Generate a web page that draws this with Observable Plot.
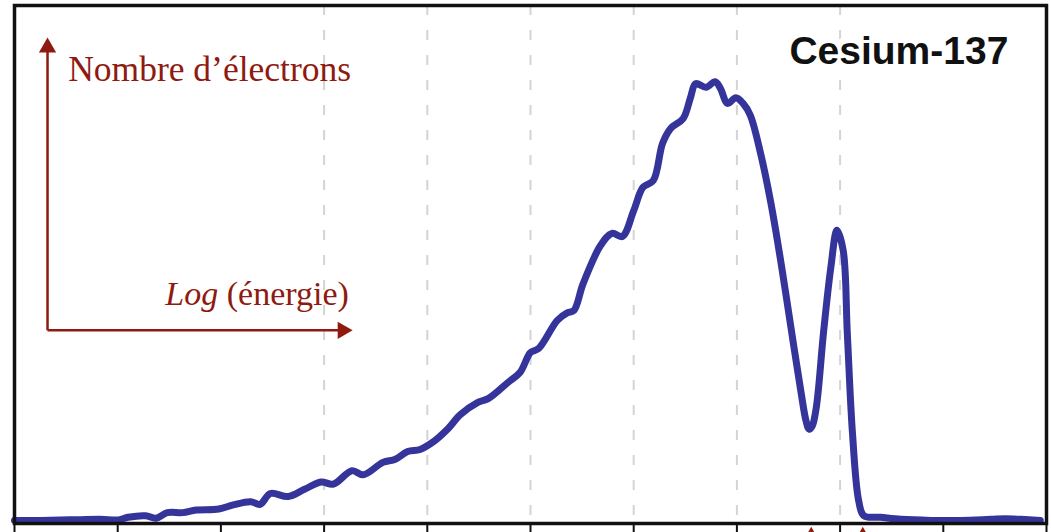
<!DOCTYPE html>
<html lang="fr">
<head>
<meta charset="utf-8">
<title>Cesium-137</title>
<script src="https://cdn.jsdelivr.net/npm/d3@7"></script>
<script src="https://cdn.jsdelivr.net/npm/@observablehq/plot@0.6"></script>
<style>
  html, body { margin: 0; padding: 0; background: #fff; }
  svg { display: block; }
</style>
</head>
<body>
<script>
// Spectre en énergie des électrons du césium-137 (échelle log, unités arbitraires)
const logEnergy = [
  0.00, 0.25, 0.54, 0.83, 1.01, 1.10, 1.27, 1.37, 1.48, 1.63, 1.76, 1.98,
  2.12, 2.29, 2.38, 2.48, 2.65, 2.81, 2.97, 3.09, 3.27, 3.38, 3.57, 3.69,
  3.81, 3.93, 4.06, 4.20, 4.32, 4.49, 4.59, 4.78, 4.90, 5.00, 5.08, 5.26,
  5.36, 5.42, 5.51, 5.68, 5.79, 5.89, 6.00, 6.09, 6.19, 6.28, 6.36, 6.48,
  6.55, 6.60, 6.70, 6.79, 6.84, 6.91, 6.99, 7.06, 7.13, 7.23, 7.33, 7.43,
  7.53, 7.62, 7.67, 7.70, 7.73, 7.77, 7.84, 7.91, 7.97, 8.03, 8.07, 8.12,
  8.18, 8.23, 8.39, 8.59, 8.88, 9.17, 9.46, 9.60, 9.75, 9.94
];
const electronCount = [
  6, 6, 7, 8, 7, 12, 15, 10, 21, 21, 26, 28,
  36, 42, 37, 58, 52, 66, 80, 76, 102, 94, 118, 124,
  139, 143, 158, 183, 210, 234, 241, 272, 292, 330, 338, 392,
  407, 411, 463, 537, 560, 554, 604, 649, 662, 734, 763, 782,
  822, 849, 842, 853, 840, 811, 822, 811, 788, 714, 618, 500,
  370, 255, 198, 182, 188, 225, 370, 494, 566, 527, 367, 174,
  44, 15, 12, 8, 6, 6, 8, 9, 8, 6
];

// Graduations de l'axe horizontal et lignes de repère
const energyTicks = [0, 1, 2, 3, 4, 5, 6, 7, 8, 9, 10];
const gridEnergies = [3, 4, 5, 6, 7, 8];
// Repères rouges sous l'axe
const markerEnergies = [7.72, 8.22];

const title = "Cesium-137";
const yLabel = "Nombre d’électrons";
const xLabel = "Log (énergie)";

const spectrum = logEnergy.map((e, i) => ({energy: e, count: electronCount[i]}));

const red = "#8e1a10";
const blue = "#34349a";

const chart = Plot.plot({
  width: 1051,
  height: 532,
  marginLeft: 14,
  marginRight: 5,
  marginTop: 5,
  marginBottom: 9,
  style: {background: "#fff"},
  x: {domain: [0, 10], axis: null},
  y: {domain: [0, 1000], axis: null},
  marks: [
    // lignes de repère pointillées
    Plot.ruleX(gridEnergies, {stroke: "#d4d4d4", strokeWidth: 2, strokeDasharray: "10,15"}),

    // titre, avec un halo blanc qui masque le quadrillage
    Plot.text([title], {
      x: 9.63, y: 888, text: d => d,
      textAnchor: "end", lineAnchor: "bottom",
      fontFamily: "'Liberation Sans', Arial, sans-serif", fontWeight: "bold", fontSize: 39,
      fill: "#111", stroke: "white", strokeWidth: 14
    }),

    // schéma des axes (flèches rouges)
    Plot.link([0], {x1: 0.32, y1: 373, x2: 0.32, y2: 912, stroke: red, strokeWidth: 2.5}),
    Plot.link([0], {x1: 0.32, y1: 373, x2: 3.16, y2: 373, stroke: red, strokeWidth: 2.5}),
    Plot.dot([0], {x: 0.32, y: 919, symbol: "triangle", r: 6.4, fill: red, stroke: "none"}),
    Plot.dot([0], {x: 3.18, y: 373, symbol: "triangle", r: 6.4, rotate: 90, fill: red, stroke: "none"}),
    Plot.text([yLabel], {
      x: 0.52, y: 855, text: d => d, textAnchor: "start", lineAnchor: "bottom",
      fontFamily: "'Liberation Serif', 'Times New Roman', serif", fontSize: 35.5, fill: red
    }),
    Plot.text([xLabel], {
      x: 3.24, y: 421, text: d => d, textAnchor: "end", lineAnchor: "bottom",
      fontFamily: "'Liberation Serif', 'Times New Roman', serif", fontSize: 34, fill: red
    }),

    // spectre
    Plot.line(spectrum, {
      x: "energy", y: "count", stroke: blue, strokeWidth: 7,
      curve: "catmull-rom", strokeLinejoin: "round", strokeLinecap: "round"
    }),

    // cadre et graduations
    Plot.frame({stroke: "#111", strokeWidth: 3.5}),
    Plot.axisX({ticks: energyTicks, tickSize: 9, tickFormat: () => "", strokeWidth: 2, stroke: "#111", label: null}),

    // repères rouges sous l'axe
    Plot.dot(markerEnergies, {x: d => d, y: 0, dy: 8, symbol: "triangle", r: 3, fill: red, stroke: "none"})
  ]
});

// « Log » en italique dans l'étiquette horizontale
d3.select(chart).selectAll("text")
  .filter(function () { return this.textContent === xLabel; })
  .each(function () {
    const t = d3.select(this);
    t.text(null);
    t.append("tspan").attr("font-style", "italic").text("Log");
    t.append("tspan").text(" (énergie)");
  });

document.body.appendChild(chart);
</script>
</body>
</html>
